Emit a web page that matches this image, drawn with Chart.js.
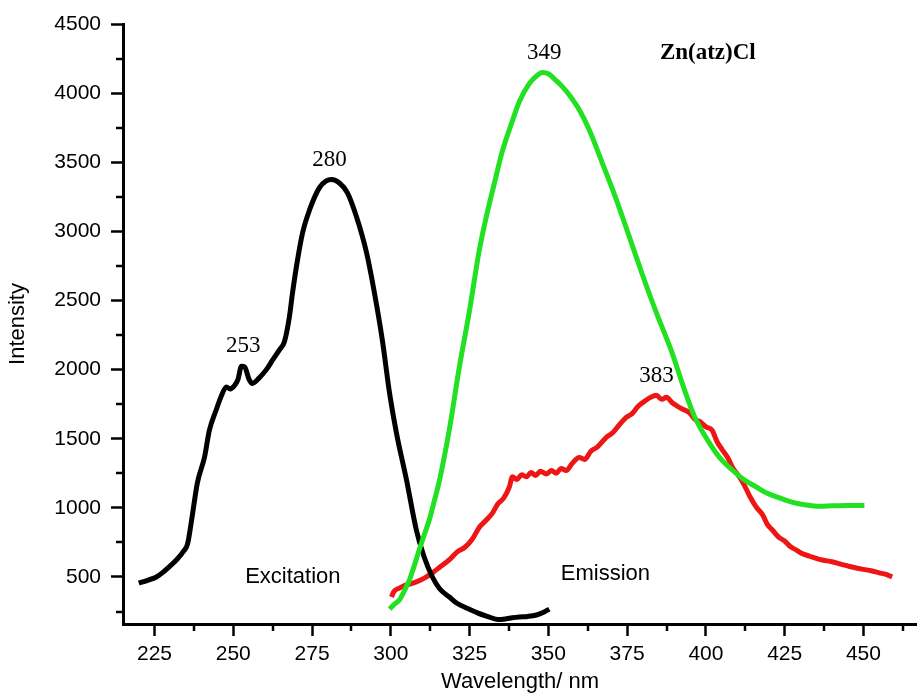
<!DOCTYPE html>
<html>
<head>
<meta charset="utf-8">
<script src="https://cdn.jsdelivr.net/npm/chart.js@4.4.0/dist/chart.umd.min.js"></script>
<style>
  body { margin: 0; background: #fff; }
  canvas { display: block; }
</style>
</head>
<body>
<canvas id="spectra" width="917" height="695"></canvas>
<script>
'use strict';

// excitation spectrum (black)
var excitationNm = [220, 223, 225.6, 228, 230, 232, 234, 235.5, 236.7, 238.6, 240.9, 242.4, 244.6, 246.3,
    247.8, 249, 250.4, 251.5, 252.6, 253.6, 255, 256.1, 258, 260.5, 262.5, 264.7, 266.2, 267.8, 268.8,
    270.4, 272, 274.2, 277.3, 279.5, 281.2, 283.7, 286.2, 289.1, 292.3, 294.8, 297.3, 299.6, 301.8,
    305, 308.1, 310.5, 313.2, 315.5, 318.6, 321, 324, 327.5, 331.3, 334, 336.7, 338.5, 340.8, 343.5,
    346.2, 348.5, 350.3];
var excitationI = [455, 478, 500, 540, 580, 625, 680, 740, 900, 1180, 1370, 1560, 1710, 1815,
    1875, 1860, 1885, 1930, 2025, 2020, 1930, 1900, 1935, 2000, 2070, 2145, 2200, 2380, 2555,
    2795, 2990, 3155, 3315, 3365, 3375, 3350, 3280, 3105, 2845, 2555, 2215, 1830, 1540,
    1200, 840, 650, 500, 415, 355, 310, 276, 240, 210, 192, 198, 205, 211, 215,
    225, 245, 268];

// emission spectrum, green trace
var emissionGreenNm = [299.6, 301, 302.7, 304.3, 305.9, 307.5, 309, 310.6, 312.2, 313.8, 315.4, 318.6,
    321.7, 324.9, 328.1, 330.3, 332.9, 335.4, 338.3, 340.8, 344, 346, 348.1, 350, 352.5, 354.5, 356.7,
    359.8, 363, 367.1, 371.6, 375.7, 379.8, 384.3, 389.3, 392.5, 396.3, 401.1, 404.5, 408.4, 412, 416,
    419.5, 423.3, 427.5, 431.8, 436, 440.1, 445, 450.3];
var emissionGreenI = [268, 300, 334, 400, 478, 585, 695, 805, 912, 1050, 1195, 1570,
    2012, 2417, 2866, 3105, 3351, 3580, 3780, 3940, 4070, 4120, 4150, 4140, 4090, 4045, 3985,
    3880, 3734, 3496, 3228, 2960, 2690, 2410, 2120, 1900, 1665, 1470, 1360, 1274, 1205, 1151,
    1105, 1072, 1040, 1021, 1012, 1015, 1018, 1018];

// emission spectrum, red trace
var emissionRedNm = [300.2, 301, 302.7, 304.5, 306, 308.1, 310.5, 313.2, 315.5, 318.6, 321, 323.5,
    325.9, 328.1, 330, 332.2, 334, 335.8, 337.6, 338.6, 340, 341.5, 343, 344.5, 346, 347.5, 349.4,
    351, 352.5, 354, 355.7, 357.5, 359.8, 361.5, 363.5, 365.5, 368.4, 370.5, 372.5, 374.7, 376.5,
    378.5, 381.1, 383, 384.3, 386, 387.5, 389.3, 391, 392.5, 394.7, 396.5, 398, 400.1, 402, 403.5,
    405.2, 407, 408.5, 410.6, 412.5, 414, 416, 418, 419.5, 421.1, 423, 425, 426.8, 428.7, 430.5,
    433, 435, 437, 440, 442.5, 445, 447.7, 450, 452.5, 455, 457, 459.1];
var emissionRedI = [355, 395, 420, 440, 448, 465, 490, 530, 570, 625, 680, 715,
    775, 860, 905, 960, 1030, 1070, 1150, 1225, 1205, 1240, 1225, 1255, 1235, 1265, 1245,
    1270, 1250, 1285, 1270, 1320, 1365, 1350, 1410, 1440, 1510, 1545, 1600, 1655, 1680,
    1735, 1780, 1805, 1815, 1785, 1800, 1760, 1735, 1715, 1690, 1640, 1625, 1585, 1560, 1480,
    1420, 1360, 1290, 1225, 1150, 1080, 1005, 950, 880, 840, 790, 760, 720, 695, 670,
    650, 635, 623, 610, 595, 580, 565, 555, 545, 530, 520, 500];

var xTickValues = [225, 250, 275, 300, 325, 350, 375, 400, 425, 450];
var xMinorTicks = [237.5, 262.5, 287.5, 312.5, 337.5, 362.5, 387.5, 412.5, 437.5, 462.5];
var yTickValues = [500, 1000, 1500, 2000, 2500, 3000, 3500, 4000, 4500];
var yMinorTicks = [250, 750, 1250, 1750, 2250, 2750, 3250, 3750, 4250];

var sans = 'Liberation Sans, Arial, sans-serif';
var serif = 'Liberation Serif, Times New Roman, serif';

var notes = [
    { text: '253', x: 253.2, y: 2171, font: '23px ' + serif },
    { text: '280', x: 280.5, y: 3517, font: '23px ' + serif },
    { text: '349', x: 348.7, y: 4290, font: '23px ' + serif },
    { text: '383', x: 384.3, y: 1955, font: '23px ' + serif },
    { text: 'Zn(atz)Cl', x: 400.6, y: 4292, font: 'bold 23px ' + serif },
    { text: 'Excitation', x: 268.9, y: 500, font: '22px ' + sans },
    { text: 'Emission', x: 368.1, y: 525, font: '22px ' + sans }
];

var toPoints = function(xs, ys) {
    return xs.map(function(x, i) {
        return { x: x, y: ys[i] };
    });
};

var extrasPlugin = {
    id: 'extras',
    afterDraw: function(chart) {
        var ctx = chart.ctx;
        var xs = chart.scales.x;
        var ys = chart.scales.y;
        var area = chart.chartArea;
        ctx.save();
        ctx.strokeStyle = '#000';
        ctx.lineWidth = 2.5;
        xMinorTicks.forEach(function(v) {
            var px = Math.round(xs.getPixelForValue(v));
            ctx.beginPath();
            ctx.moveTo(px, area.bottom);
            ctx.lineTo(px, area.bottom + 7);
            ctx.stroke();
        });
        yMinorTicks.forEach(function(v) {
            var py = Math.round(ys.getPixelForValue(v));
            ctx.beginPath();
            ctx.moveTo(area.left, py);
            ctx.lineTo(area.left - 7, py);
            ctx.stroke();
        });
        ctx.fillStyle = '#000';
        ctx.textAlign = 'center';
        ctx.textBaseline = 'middle';
        notes.forEach(function(n) {
            ctx.font = n.font;
            ctx.fillText(n.text, xs.getPixelForValue(n.x), ys.getPixelForValue(n.y));
        });
        ctx.restore();
    }
};

var line = function(label, xs, ys, color) {
    return {
        label: label,
        data: toPoints(xs, ys),
        showLine: true,
        borderColor: color,
        backgroundColor: color,
        borderWidth: 5,
        pointRadius: 0,
        cubicInterpolationMode: 'monotone'
    };
};

var plainLabel = function(v) {
    return String(v);
};

var ctx = document.getElementById('spectra').getContext('2d');
var spectraChart = new Chart(ctx, {
    type: 'scatter',
    data: {
        datasets: [
            line('Emission', emissionGreenNm, emissionGreenI, '#22e022'),
            line('Excitation', excitationNm, excitationI, '#000000'),
            line('Emission', emissionRedNm, emissionRedI, '#ee1515')
        ]
    },
    options: {
        responsive: false,
        animation: false,
        devicePixelRatio: 1,
        layout: { padding: { top: 24, right: 0, bottom: 0, left: 0 } },
        plugins: {
            legend: { display: false },
            tooltip: { enabled: false }
        },
        scales: {
            x: {
                type: 'linear',
                min: 215,
                max: 467,
                afterBuildTicks: function(scale) {
                    scale.ticks = xTickValues.map(function(v) { return { value: v }; });
                },
                afterFit: function(scale) { scale.height = 71; },
                border: { display: true, color: '#000', width: 3 },
                grid: { display: true, drawOnChartArea: false, drawTicks: true, tickLength: 12, tickWidth: 2.5, tickColor: '#000' },
                ticks: { color: '#000', padding: 6, maxRotation: 0, callback: plainLabel, font: { family: sans, size: 21 } },
                title: { display: true, text: 'Wavelength/ nm', color: '#000', padding: { top: 0, bottom: 0 }, font: { family: sans, size: 22 } }
            },
            y: {
                type: 'linear',
                min: 160,
                max: 4500,
                afterBuildTicks: function(scale) {
                    scale.ticks = yTickValues.map(function(v) { return { value: v }; });
                },
                afterFit: function(scale) { scale.width = 123; },
                border: { display: true, color: '#000', width: 3 },
                grid: { display: true, drawOnChartArea: false, drawTicks: true, tickLength: 12, tickWidth: 2.5, tickColor: '#000' },
                ticks: { color: '#000', padding: 10, callback: plainLabel, font: { family: sans, size: 21 } },
                title: { display: true, text: 'Intensity', color: '#000', padding: { top: 5, bottom: 0 }, font: { family: sans, size: 22 } }
            }
        }
    },
    plugins: [extrasPlugin]
});
</script>
</body>
</html>
